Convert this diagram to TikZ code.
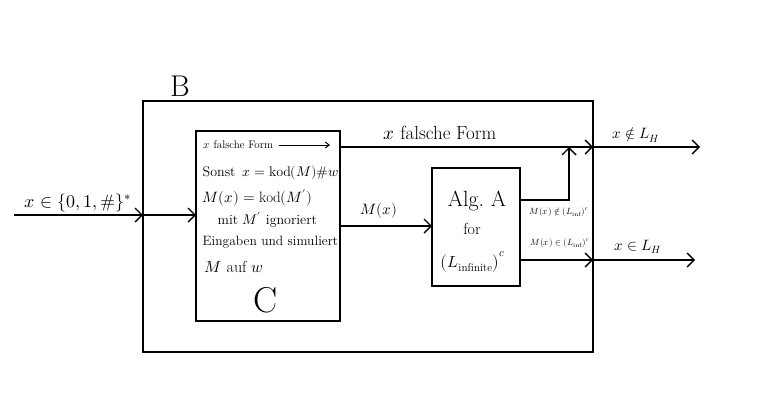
\documentclass[tikz,border=0pt]{standalone}
\usepackage{unicode-math}
\usetikzlibrary{arrows.meta}
\begin{document}
\begin{tikzpicture}[x=1pt,y=-1pt,line width=1.4pt,
  arr/.style={-{Straight Barb[length=7pt,width=14pt,line width=1.4pt]}},
  box/.style={draw,anchor=north west,inner sep=0pt,outer sep=0pt},
  lbl/.style={inner sep=1pt,font=\fontsize{15}{17}\selectfont},
  small/.style={inner sep=0.5pt,font=\fontsize{9}{10}\selectfont},
  ctext/.style={anchor=west,inner sep=0pt,font=\fontsize{14}{16}\selectfont}]
\useasboundingbox (0,0) rectangle (784,405);
% boxes
\node[box,minimum width=450pt,minimum height=251pt] (B) at (143,101) {};
\node[box,minimum width=144pt,minimum height=190pt] (C) at (196,131) {};
\node[box,minimum width=88pt,minimum height=118pt] (A) at (432,168) {};
\node[font=\fontsize{30}{32}\selectfont,inner sep=0pt] (Blbl) at (180,86) {B};
% coordinates
\coordinate (in) at (14,215);
\coordinate (ty) at (0,147);
\coordinate (my) at (0,226);
\coordinate (uy) at (0,200);
\coordinate (ly) at (0,260);
\coordinate (up) at (569,200);
\coordinate (out1) at (700,147);
\coordinate (out2) at (695,260);
% connectors
\draw[arr] (in) -- (in -| B.west);
\draw[arr] (in -| B.west) -- (in -| C.west);
\draw[arr] (ty -| C.east) -- (ty -| B.east);
\draw[arr] (ty -| B.east) -- (out1);
\draw[arr] (my -| C.east) -- (my -| A.west);
\draw[arr] (uy -| A.east) -- (up) -- (up |- ty);
\draw[arr] (ly -| A.east) -- (ly -| B.east);
\draw[arr] (ly -| B.east) -- (out2);
% labels
\node[lbl,font=\fontsize{18}{20}\selectfont] (linput) at (78,203) {$x\in\{0,1,\#\}^*$};
\node[lbl,font=\fontsize{19}{21}\selectfont] (lfalse) at (440,133) {$x$ falsche Form};
\node[lbl] (lnotin) at (636,135) {$x∉L_H$};
\node[lbl] (lin) at (638,247) {$x\in L_H$};
\node[lbl] (lmx) at (379,211) {$M(x)$};
\node[small] (lnotinf) at (559,212) {$M(x)∉(L_{\mathrm{inf}})^c$};
\node[small] (linf) at (560,243) {$M(x)\in(L_{\mathrm{inf}})^c$};
% text in C
\node[ctext,font=\fontsize{11}{13}\selectfont] (c1) at (203,145) {$x$ falsche Form};
\coordinate (c1e) at (330,145);
\draw[-{Straight Barb[length=4pt,width=6pt]},line width=1pt] (c1.east) ++(5,0) -- (c1e);
\node[ctext] (c2) at (202,173) {Sonst\enspace $x=\mathrm{kod}(M)\#w$};
\node[ctext,font=\fontsize{15}{17}\selectfont] (c3) at (202,198) {$M(x)=\mathrm{kod}(M')$};
\node[ctext] (c4) at (217,220) {mit $M'$ ignoriert};
\node[ctext,font=\fontsize{13.5}{15}\selectfont] (c5) at (202,242) {Eingaben und simuliert};
\node[ctext,font=\fontsize{16}{18}\selectfont] (c6) at (204,267) {$M$ auf $w$};
\node[font=\fontsize{36}{38}\selectfont,inner sep=0pt] (Cl) at (266,300) {C};
% text in A
\node[font=\fontsize{22}{24}\selectfont,inner sep=0pt] (a1) at (477,201) {Alg.\ A};
\node[font=\fontsize{16}{18}\selectfont,inner sep=0pt] (a2) at (472,229) {for};
\node[font=\fontsize{16}{18}\selectfont,inner sep=0pt] (a3) at (473,262) {$\bigl(L_{\mathrm{infinite}}\bigr)^c$};
\end{tikzpicture}
\end{document}
